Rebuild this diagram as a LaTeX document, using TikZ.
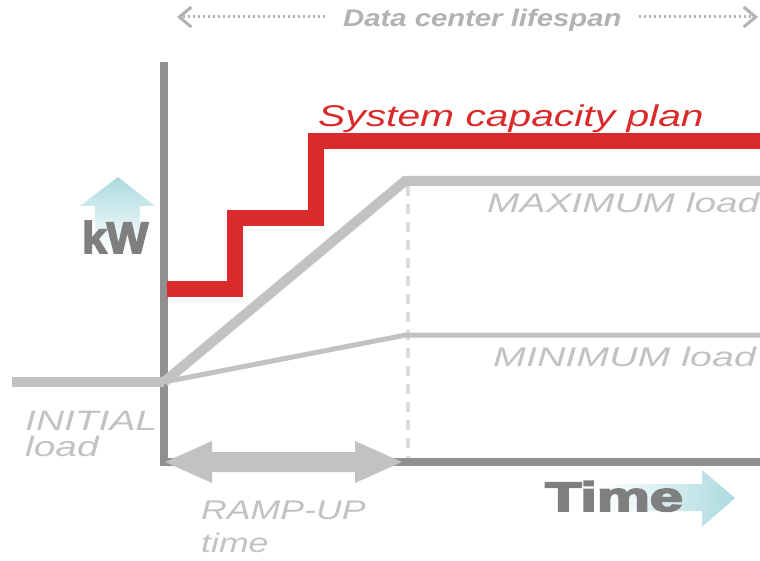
\documentclass[tikz,border=0pt]{standalone}
\usepackage{fontspec}
\setmainfont{Liberation Sans}
\newfontfamily\heavyfont[FakeBold=4]{Liberation Sans Bold}
\usepackage{graphicx}
\usepackage{xcolor}
\usetikzlibrary{arrows.meta}

\definecolor{capred}{HTML}{D92B2B}
\definecolor{loadgray}{HTML}{C2C2C2}
\definecolor{axisgray}{HTML}{909090}
\definecolor{labelgray}{HTML}{7F7F7F}
\definecolor{spangray}{HTML}{B2B2B2}
\definecolor{hintcyan}{HTML}{ACDADF}

\newcommand{\wide}[2]{\scalebox{#1}[1]{#2}}

\begin{document}
\begin{tikzpicture}[x=1pt,y=-1pt,
    loadline/.style={loadgray, line width=10pt},
    axisline/.style={axisgray, line width=8pt},
    caption/.style={loadgray, anchor=base west, inner sep=0pt,
      font=\itshape\fontsize{28}{30}\selectfont},
    bigcaption/.style={caption, font=\itshape\fontsize{27}{30}\selectfont},
    heavy/.style={labelgray, anchor=base west, inner sep=0pt},
    spanarrow/.style={spangray, line width=3pt, dash pattern=on 2.5pt off 2.5pt,
      -{Straight Barb[length=12pt,width=20pt,line width=3pt]}}]
  \useasboundingbox (0,0) rectangle (760,561);

  % hint arrows behind the axis labels
  \shade [top color=hintcyan, bottom color=white] (118,177) -- (155,206) -- (140,206)
    -- (140,252) -- (95,252) -- (95,206) -- (80,206) -- cycle;
  \shade [left color=white, right color=hintcyan] (600,484) -- (702,484) -- (702,470)
    -- (735,498) -- (702,527) -- (702,511) -- (600,511) -- cycle;

  % axes
  \draw [axisline] (164,62) -- (164,466);
  \draw [axisline] (160,462) -- (760,462);
  \draw [loadgray!60, line width=4pt, dash pattern=on 10pt off 8pt] (408,186) -- (408,458);

  % loads
  \draw [loadline] (12,382) -- (164,382);
  \draw [loadline, line join=miter] (164,382) -- (405,181) -- (760,181);
  \draw [loadgray, line width=5pt] (164,382) -- (406,335) -- (760,335);

  % capacity plan
  \draw [capred, line width=16pt, line join=miter] (167,289) -- (235,289) -- (235,218)
    -- (316,218) -- (316,141) -- (760,141);

  % ramp-up span
  \fill [loadgray] (165,462) -- (212,441) -- (212,452) -- (355,452) -- (355,441)
    -- (402,462) -- (355,483) -- (355,472) -- (212,472) -- (212,483) -- cycle;

  % labels
  \node [heavy, font=\heavyfont\fontsize{44}{44}\selectfont] (kw) at (82,253) {kW};
  \node [heavy, font=\heavyfont\fontsize{41}{41}\selectfont] (time) at (545,511) {\wide{1.45}{Time}};
  \node [capred, anchor=base west, inner sep=0pt, font=\itshape\fontsize{30}{30}\selectfont]
    (plan) at (318,127) {\wide{1.36}{System capacity plan}};
  \node [bigcaption] (maxload) at (487,213) {\wide{1.44}{MAXIMUM load}};
  \node [bigcaption] (minload) at (493,366) {\wide{1.46}{MINIMUM load}};
  \node [caption] (initial) at (25,430) {\wide{1.39}{INITIAL}};
  \node [caption] (initialb) at (25,456) {\wide{1.39}{load}};
  \node [caption, font=\itshape\fontsize{27}{30}\selectfont] (ramp) at (201,519) {\wide{1.32}{RAMP-UP}};
  \node [caption, font=\itshape\fontsize{27}{30}\selectfont] (rampb) at (201,552) {\wide{1.32}{time}};
  \node [spangray, anchor=base west, inner sep=0pt, font=\bfseries\itshape\fontsize{24}{24}\selectfont]
    (span) at (343,27) {\wide{1.22}{Data center lifespan}};

  % lifespan arrows
  \coordinate (spanL) at (177,17);
  \coordinate (spanR) at (758,17);
  \draw [spanarrow] ([xshift=-18pt]span.base west) ++(0,-10) -- (spanL);
  \draw [spanarrow] ([xshift=17pt]span.base east) ++(0,-10) -- (spanR);
\end{tikzpicture}
\end{document}
